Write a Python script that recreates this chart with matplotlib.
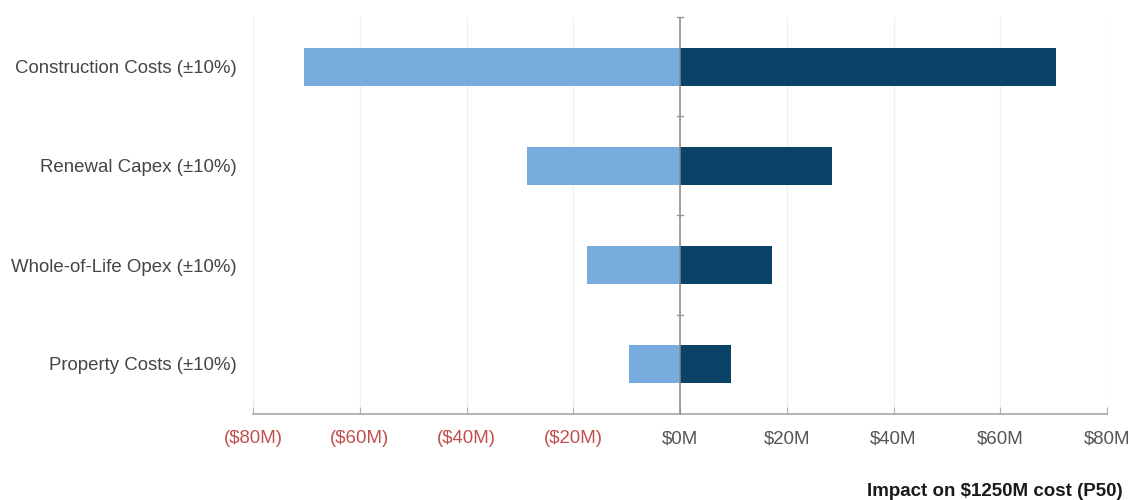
import matplotlib
matplotlib.use("Agg")
import matplotlib.pyplot as plt
from matplotlib.ticker import FuncFormatter

plt.rcParams["font.family"] = ["Liberation Sans", "DejaVu Sans"]

# sensitivity of P50 cost to +/-10% swings in each driver ($M)
drivers = ["Construction Costs (±10%)", "Renewal Capex (±10%)",
           "Whole-of-Life Opex (±10%)", "Property Costs (±10%)"]
low_impact = [-70.4, -28.6, -17.5, -9.5]
high_impact = [70.4, 28.5, 17.3, 9.6]
x_ticks = [-80, -60, -40, -20, 0, 20, 40, 60, 80]

LIGHT = "#78acdf"
DARK = "#0b4268"
NEG_RED = "#c0504d"

fig = plt.figure(figsize=(11.32, 5.0), dpi=100)
ax = fig.add_axes([0.2235, 0.173, 0.7545, 0.792])

ypos = list(range(len(drivers)))
ax.barh(ypos, low_impact, height=0.39, color=LIGHT, zorder=2)
ax.barh(ypos, high_impact, height=0.39, color=DARK, zorder=2)

ax.set_xlim(-80, 80)
ax.set_ylim(len(drivers) - 0.5, -0.5)
ax.set_yticks(ypos)
ax.set_yticklabels(drivers, fontsize=13.4, color="#454545")
ax.tick_params(axis="y", length=0, pad=11.5)

ax.set_xticks(x_ticks)
ax.xaxis.set_major_formatter(FuncFormatter(
    lambda v, _: f"(${abs(v):.0f}M)" if v < 0 else f"${v:.0f}M"))
ax.tick_params(axis="x", direction="in", length=5, color="#b0b0b0",
               labelsize=13.4, pad=12)
for lbl, v in zip(ax.get_xticklabels(), x_ticks):
    lbl.set_color(NEG_RED if v < 0 else "#555555")

ax.grid(axis="x", color="#f0f0f0", linewidth=0.9, zorder=0)
for side in ("top", "right", "left"):
    ax.spines[side].set_visible(False)
ax.spines["bottom"].set_color("#a8a8a8")
ax.spines["bottom"].set_linewidth(1.2)

# zero line with small category dividers
ax.axvline(0, color="#888888", linewidth=1.1, zorder=3)
for b in [y - 0.5 for y in ypos]:
    ax.plot([-0.5, 0.5], [b, b], color="#999999", linewidth=1.0,
            zorder=3, clip_on=False)

fig.text(0.879, 0.0, "Impact on $1250M cost (P50)", ha="center",
         va="bottom", fontsize=13.5, fontweight="bold", color="#1a1a1a")

fig.savefig("out.png", dpi=100, facecolor="white")
